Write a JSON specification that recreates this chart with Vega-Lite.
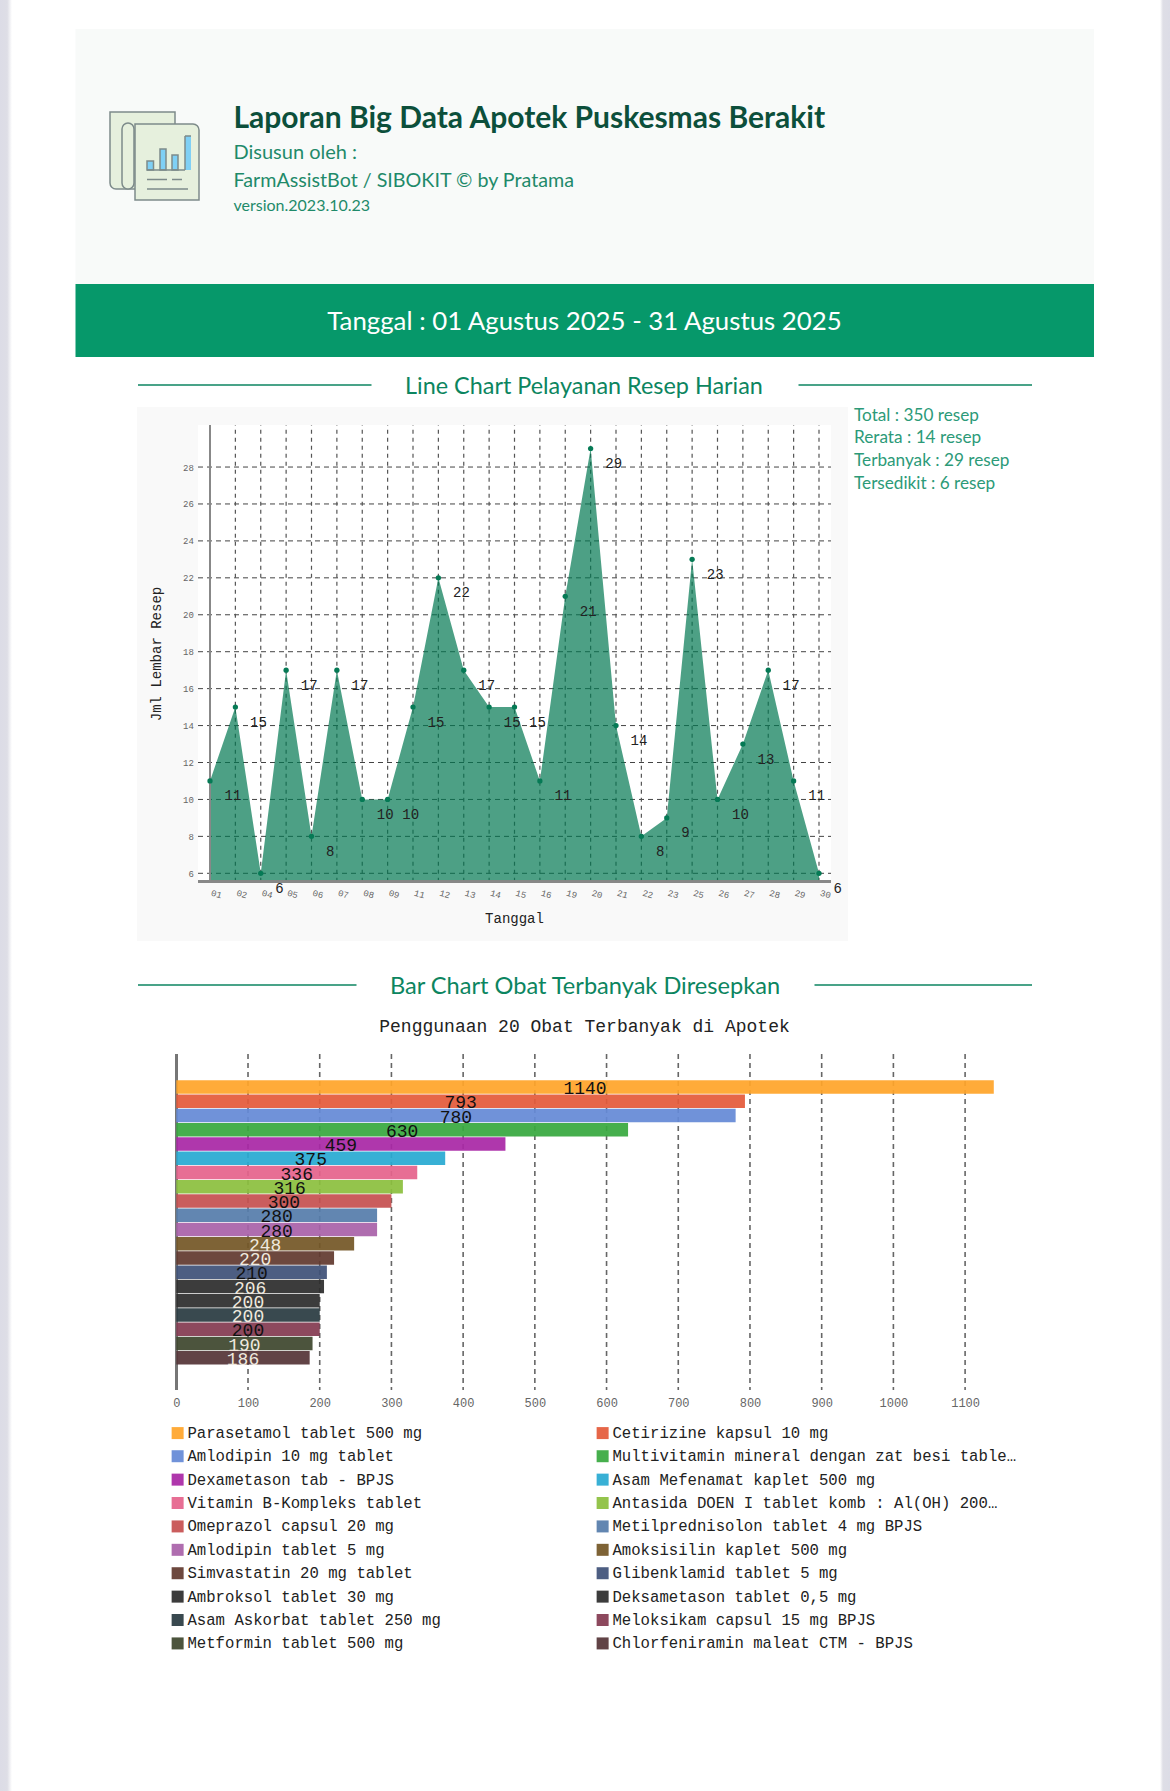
{
"$schema":"https://vega.github.io/schema/vega-lite/v6.json",
"autosize":{"type":"fit","contains":"padding"},
"width":1170,"height":1791,"padding":0,"background":"#ffffff",
"config":{"view":{"stroke":null},"text":{"font":"Lato"}},
"datasets":{
"resep":[{"tanggal":"01","jumlah":11},{"tanggal":"02","jumlah":15},{"tanggal":"04","jumlah":6},{"tanggal":"05","jumlah":17},{"tanggal":"06","jumlah":8},{"tanggal":"07","jumlah":17},{"tanggal":"08","jumlah":10},{"tanggal":"09","jumlah":10},{"tanggal":"11","jumlah":15},{"tanggal":"12","jumlah":22},{"tanggal":"13","jumlah":17},{"tanggal":"14","jumlah":15},{"tanggal":"15","jumlah":15},{"tanggal":"16","jumlah":11},{"tanggal":"19","jumlah":21},{"tanggal":"20","jumlah":29},{"tanggal":"21","jumlah":14},{"tanggal":"22","jumlah":8},{"tanggal":"23","jumlah":9},{"tanggal":"25","jumlah":23},{"tanggal":"26","jumlah":10},{"tanggal":"27","jumlah":13},{"tanggal":"28","jumlah":17},{"tanggal":"29","jumlah":11},{"tanggal":"30","jumlah":6}],
"ygrid":[{"jumlah":6},{"jumlah":8},{"jumlah":10},{"jumlah":12},{"jumlah":14},{"jumlah":16},{"jumlah":18},{"jumlah":20},{"jumlah":22},{"jumlah":24},{"jumlah":26},{"jumlah":28}],
"xgrid":[{"jumlah":100},{"jumlah":200},{"jumlah":300},{"jumlah":400},{"jumlah":500},{"jumlah":600},{"jumlah":700},{"jumlah":800},{"jumlah":900},{"jumlah":1000},{"jumlah":1100}],
"obat":[{"obat":"Parasetamol tablet 500 mg","jumlah":1140},{"obat":"Cetirizine kapsul 10 mg","jumlah":793},{"obat":"Amlodipin 10 mg tablet","jumlah":780},{"obat":"Multivitamin mineral dengan zat besi table…","jumlah":630},{"obat":"Dexametason tab - BPJS","jumlah":459},{"obat":"Asam Mefenamat kaplet 500 mg","jumlah":375},{"obat":"Vitamin B-Kompleks tablet","jumlah":336},{"obat":"Antasida DOEN I tablet komb : Al(OH) 200…","jumlah":316},{"obat":"Omeprazol capsul 20 mg","jumlah":300},{"obat":"Metilprednisolon tablet 4 mg BPJS","jumlah":280},{"obat":"Amlodipin tablet 5 mg","jumlah":280},{"obat":"Amoksisilin kaplet 500 mg","jumlah":248},{"obat":"Simvastatin 20 mg tablet","jumlah":220},{"obat":"Glibenklamid tablet 5 mg","jumlah":210},{"obat":"Ambroksol tablet 30 mg","jumlah":206},{"obat":"Deksametason tablet 0,5 mg","jumlah":200},{"obat":"Asam Askorbat tablet 250 mg","jumlah":200},{"obat":"Meloksikam capsul 15 mg BPJS","jumlah":200},{"obat":"Metformin tablet 500 mg","jumlah":190},{"obat":"Chlorfeniramin maleat CTM - BPJS","jumlah":186}]
},
"data":{"values":[{"halaman":"laporan"}]},
"resolve":{"scale":{"x":"independent","y":"independent","color":"independent"},"axis":{"x":"independent","y":"independent"}},
"layer":[
{"mark":{"type":"rect","fill":{"gradient":"linear","x1":0,"x2":1,"y1":0,"y2":0,"stops":[{"offset":0,"color":"#dcdce6"},{"offset":0.6,"color":"#dedee6"},{"offset":1,"color":"#ffffff"}]}},"encoding":{"x":{"value":0},"x2":{"value":12},"y":{"value":0},"y2":{"value":1791}}},
{"mark":{"type":"rect","fill":{"gradient":"linear","x1":0,"x2":1,"y1":0,"y2":0,"stops":[{"offset":0,"color":"#ffffff"},{"offset":0.3,"color":"#dedee6"},{"offset":1,"color":"#dcdce6"}]}},"encoding":{"x":{"value":1160},"x2":{"value":1170},"y":{"value":0},"y2":{"value":1791}}},
{"mark":{"type":"rect","fill":"#f8faf9"},"encoding":{"x":{"value":75.5},"x2":{"value":1094},"y":{"value":29},"y2":{"value":284}}},
{"mark":{"type":"rect","fill":"#06986a"},"encoding":{"x":{"value":75.5},"x2":{"value":1094},"y":{"value":284},"y2":{"value":357}}},
{"mark":{"type":"rect","fill":"#e6f0dd","stroke":"#7d8b8a","strokeWidth":1.5,"cornerRadiusBottomLeft":6},"encoding":{"x":{"value":110},"x2":{"value":175},"y":{"value":112},"y2":{"value":189}}},
{"mark":{"type":"rect","fill":"#e6f0dd","stroke":"#7d8b8a","strokeWidth":1.5,"cornerRadius":6},"encoding":{"x":{"value":122},"x2":{"value":134},"y":{"value":123},"y2":{"value":189}}},
{"mark":{"type":"rect","fill":"#e6f0dd","stroke":"#7d8b8a","strokeWidth":1.5,"cornerRadiusTopRight":6},"encoding":{"x":{"value":135},"x2":{"value":199},"y":{"value":124},"y2":{"value":200}}},
{"mark":{"type":"rect","fill":"#7fd0f5","stroke":"#7d8b8a","strokeWidth":1.5},"encoding":{"x":{"value":147},"x2":{"value":153.5},"y":{"value":161},"y2":{"value":170}}},
{"mark":{"type":"rect","fill":"#7fd0f5","stroke":"#7d8b8a","strokeWidth":1.5},"encoding":{"x":{"value":160},"x2":{"value":166},"y":{"value":149},"y2":{"value":170}}},
{"mark":{"type":"rect","fill":"#7fd0f5","stroke":"#7d8b8a","strokeWidth":1.5},"encoding":{"x":{"value":172},"x2":{"value":178},"y":{"value":155},"y2":{"value":170}}},
{"mark":{"type":"rect","fill":"#7fd0f5"},"encoding":{"x":{"value":185},"x2":{"value":191},"y":{"value":136},"y2":{"value":170}}},
{"mark":{"type":"rule","stroke":"#7d8b8a","strokeWidth":1.5},"encoding":{"x":{"value":185},"x2":{"value":191},"y":{"value":136}}},
{"mark":{"type":"rule","stroke":"#7d8b8a","strokeWidth":1.5},"encoding":{"x":{"value":185},"y":{"value":136},"y2":{"value":170}}},
{"mark":{"type":"rule","stroke":"#7d8b8a","strokeWidth":1.5},"encoding":{"x":{"value":147},"x2":{"value":185},"y":{"value":170}}},
{"mark":{"type":"rule","stroke":"#7d8b8a","strokeWidth":1.5},"encoding":{"x":{"value":147},"x2":{"value":167},"y":{"value":179.5}}},
{"mark":{"type":"rule","stroke":"#7d8b8a","strokeWidth":1.5},"encoding":{"x":{"value":172},"x2":{"value":182},"y":{"value":179.5}}},
{"mark":{"type":"rule","stroke":"#7d8b8a","strokeWidth":1.5},"encoding":{"x":{"value":147},"x2":{"value":188},"y":{"value":189}}},
{"mark":{"type":"text","text":"Laporan Big Data Apotek Puskesmas Berakit","x":233.5,"y":118.5,"align":"left","baseline":"middle","fontSize":30,"fontWeight":"bold","fill":"#0c4f3b"},"encoding":{}},
{"mark":{"type":"text","text":"Disusun oleh :","x":233.5,"y":152.5,"align":"left","baseline":"middle","fontSize":20,"fill":"#1f8a6a"},"encoding":{}},
{"mark":{"type":"text","text":"FarmAssistBot / SIBOKIT © by Pratama","x":233.5,"y":180.5,"align":"left","baseline":"middle","fontSize":19.7,"fill":"#1f8a6a"},"encoding":{}},
{"mark":{"type":"text","text":"version.2023.10.23","x":233.5,"y":205.5,"align":"left","baseline":"middle","fontSize":16,"fill":"#1f8a6a"},"encoding":{}},
{"mark":{"type":"text","text":"Tanggal : 01 Agustus 2025 - 31 Agustus 2025","x":584.5,"y":322,"align":"center","baseline":"middle","fontSize":25.8,"fill":"#ffffff"},"encoding":{}},
{"mark":{"type":"rule","stroke":"#0c8560","strokeWidth":1.5},"encoding":{"x":{"value":138},"x2":{"value":371.5},"y":{"value":385}}},
{"mark":{"type":"rule","stroke":"#0c8560","strokeWidth":1.5},"encoding":{"x":{"value":798.5},"x2":{"value":1032},"y":{"value":385}}},
{"mark":{"type":"text","text":"Line Chart Pelayanan Resep Harian","x":584,"y":386.5,"align":"center","baseline":"middle","fontSize":23.4,"fill":"#0c8560"},"encoding":{}},
{"mark":{"type":"rect","fill":"#f9f9f9"},"encoding":{"x":{"value":137},"x2":{"value":848},"y":{"value":407},"y2":{"value":941}}},
{"mark":{"type":"rect","fill":"#ffffff"},"encoding":{"x":{"value":198},"x2":{"value":831},"y":{"value":425},"y2":{"value":882}}},
{"mark":{"type":"text","text":"Total : 350 resep","x":854,"y":416,"align":"left","baseline":"middle","fontSize":17.2,"fill":"#2c9a78"},"encoding":{}},
{"mark":{"type":"text","text":"Rerata : 14 resep","x":854,"y":438,"align":"left","baseline":"middle","fontSize":17.2,"fill":"#2c9a78"},"encoding":{}},
{"mark":{"type":"text","text":"Terbanyak : 29 resep","x":854,"y":461,"align":"left","baseline":"middle","fontSize":17.2,"fill":"#2c9a78"},"encoding":{}},
{"mark":{"type":"text","text":"Tersedikit : 6 resep","x":854,"y":484,"align":"left","baseline":"middle","fontSize":17.2,"fill":"#2c9a78"},"encoding":{}},
{
"data":{"name":"resep"},
"encoding":{
"x":{"field":"tanggal","type":"ordinal","title":"Tanggal","scale":{"type":"point","range":[210,819],"padding":0},"axis":{"orient":"bottom","offset":-909.5,"zindex":1,"domain":false,"ticks":false,"grid":false,"labelAngle":15,"labelAlign":"center","labelBaseline":"middle","labelPadding":12,"labelFont":"Liberation Mono","labelFontSize":9,"labelColor":"#666666","labelOverlap":false,"labelBound":false,"labelFlush":false,"labelOffset":6,"titleFont":"Liberation Mono","titleFontSize":14,"titleFontWeight":"normal","titleColor":"#222222","titleX":514,"titleY":37,"titleAlign":"center","titleBaseline":"middle"}},
"y":{"field":"jumlah","type":"quantitative","title":"Jml Lembar Resep","scale":{"domain":[5.54,30.26],"range":[881.8,425.3],"nice":false,"zero":false},"axis":{"orient":"left","offset":-193.3,"zindex":1,"domain":false,"ticks":false,"grid":false,"values":[6,8,10,12,14,16,18,20,22,24,26,28],"labelPadding":0,"labelFont":"Liberation Mono","labelFontSize":9,"labelColor":"#666666","labelOverlap":false,"labelBound":false,"labelFlush":false,"titleFont":"Liberation Mono","titleFontSize":14,"titleFontWeight":"normal","titleColor":"#222222","titleX":-37,"titleY":653.5,"titleAlign":"center","titleBaseline":"middle","titleAngle":-90}}
},
"layer":[
{"data":{"name":"ygrid"},"mark":{"type":"rule","stroke":"#444444","strokeWidth":1,"strokeDash":[5,4]},"encoding":{"x":{"value":198},"x2":{"value":831}}},
{"mark":{"type":"rule","stroke":"#555555","strokeWidth":1.2,"strokeDash":[4,4]},"encoding":{"y":{"datum":5.54},"y2":{"datum":30.26}}},
{"mark":{"type":"area","fill":"#027751","opacity":0.7,"interpolate":"linear"},"encoding":{"y2":{"datum":5.54}}},
{"mark":{"type":"rule","stroke":"#888888","strokeWidth":2},"encoding":{"x":{"value":198},"x2":{"value":831},"y":{"datum":5.54}}},
{"mark":{"type":"rule","stroke":"#888888","strokeWidth":2},"encoding":{"x":{"value":210},"y":{"datum":5.54},"y2":{"datum":30.26}}},
{"mark":{"type":"point","filled":true,"size":28,"color":"#057a55","opacity":1}},
{"mark":{"type":"text","font":"Liberation Mono","fontSize":14,"fill":"#222222","align":"left","baseline":"middle","dx":14.6,"dy":15.5},"encoding":{"text":{"field":"jumlah","type":"quantitative"}}}
]
},
{"mark":{"type":"rule","stroke":"#0c8560","strokeWidth":1.5},"encoding":{"x":{"value":138},"x2":{"value":356.5},"y":{"value":985}}},
{"mark":{"type":"rule","stroke":"#0c8560","strokeWidth":1.5},"encoding":{"x":{"value":814.5},"x2":{"value":1032},"y":{"value":985}}},
{"mark":{"type":"text","text":"Bar Chart Obat Terbanyak Diresepkan","x":585,"y":986.5,"align":"center","baseline":"middle","fontSize":23.6,"fill":"#0c8560"},"encoding":{}},
{"mark":{"type":"text","text":"Penggunaan 20 Obat Terbanyak di Apotek","x":584.5,"y":1026.5,"align":"center","baseline":"middle","font":"Liberation Mono","fontSize":18,"fill":"#222222"},"encoding":{}},
{
"data":{"name":"obat"},
"encoding":{
"x":{"field":"jumlah","type":"quantitative","title":null,"scale":{"domain":[0,1100],"range":[176.3,965.1],"nice":false},"axis":{"orient":"bottom","offset":-397,"zindex":1,"domain":false,"ticks":false,"grid":false,"format":"d","values":[0,100,200,300,400,500,600,700,800,900,1000,1100],"labelPadding":3.5,"labelFont":"Liberation Mono","labelFontSize":12,"labelColor":"#666666","labelOverlap":false,"labelBound":false,"labelFlush":false}},
"y":{"field":"obat","type":"nominal","sort":null,"title":null,"axis":null,"scale":{"type":"band","range":[1079.9,1364.9],"paddingInner":0.05,"paddingOuter":0.025}}
},
"layer":[
{"data":{"name":"xgrid"},"mark":{"type":"rule","stroke":"#666666","strokeWidth":1.6,"strokeDash":[5,4]},"encoding":{"x":{"field":"jumlah","type":"quantitative","stack":null,"title":null,"scale":{"domain":[0,1100],"range":[176.3,965.1],"nice":false},"axis":{"orient":"bottom","offset":-397,"zindex":1,"domain":false,"ticks":false,"grid":false,"format":"d","values":[0,100,200,300,400,500,600,700,800,900,1000,1100],"labelPadding":3.5,"labelFont":"Liberation Mono","labelFontSize":12,"labelColor":"#666666","labelOverlap":false,"labelBound":false,"labelFlush":false}},"y":{"value":1054},"y2":{"value":1390}}},
{"mark":{"type":"rule","stroke":"#777777","strokeWidth":2},"encoding":{"x":{"datum":0},"y":{"value":1054},"y2":{"value":1390}}},
{"mark":{"type":"bar","opacity":0.93},"encoding":{"color":{"field":"obat","type":"nominal","scale":{"domain":["Parasetamol tablet 500 mg","Cetirizine kapsul 10 mg","Amlodipin 10 mg tablet","Multivitamin mineral dengan zat besi table…","Dexametason tab - BPJS","Asam Mefenamat kaplet 500 mg","Vitamin B-Kompleks tablet","Antasida DOEN I tablet komb : Al(OH) 200…","Omeprazol capsul 20 mg","Metilprednisolon tablet 4 mg BPJS","Amlodipin tablet 5 mg","Amoksisilin kaplet 500 mg","Simvastatin 20 mg tablet","Glibenklamid tablet 5 mg","Ambroksol tablet 30 mg","Deksametason tablet 0,5 mg","Asam Askorbat tablet 250 mg","Meloksikam capsul 15 mg BPJS","Metformin tablet 500 mg","Chlorfeniramin maleat CTM - BPJS"],"range":["#ffa52a","#e45a3a","#658ad6","#38a940","#a928a6","#29aad2","#e5638c","#8cbf3e","#c65151","#567dab","#a962a9","#745727","#623a2f","#405278","#2d2d2d","#2d2d2d","#2a3b42","#843b52","#3e472e","#553538"]},"legend":{"orient":"none","legendX":169.8,"legendY":1425,"title":null,"columns":2,"direction":"horizontal","symbolType":"square","symbolSize":144,"symbolStrokeWidth":0,"symbolOpacity":0.93,"labelFont":"Liberation Mono","labelFontSize":15.65,"labelColor":"#222222","labelLimit":1000,"labelOffset":2,"columnPadding":153,"rowPadding":6.4,"padding":0}}}},
{"mark":{"type":"text","font":"Liberation Mono","fontSize":18,"align":"center","baseline":"middle","dy":2},"encoding":{"x":{"field":"jumlah","type":"quantitative","stack":"zero","bandPosition":0.5},"text":{"field":"jumlah","type":"quantitative"},"color":{"condition":{"test":"indexof(['Amoksisilin kaplet 500 mg','Simvastatin 20 mg tablet','Ambroksol tablet 30 mg','Deksametason tablet 0,5 mg','Asam Askorbat tablet 250 mg','Metformin tablet 500 mg','Chlorfeniramin maleat CTM - BPJS'],datum.obat)>=0","value":"#efe9df"},"value":"#111111"}}}
]
}
]
}
